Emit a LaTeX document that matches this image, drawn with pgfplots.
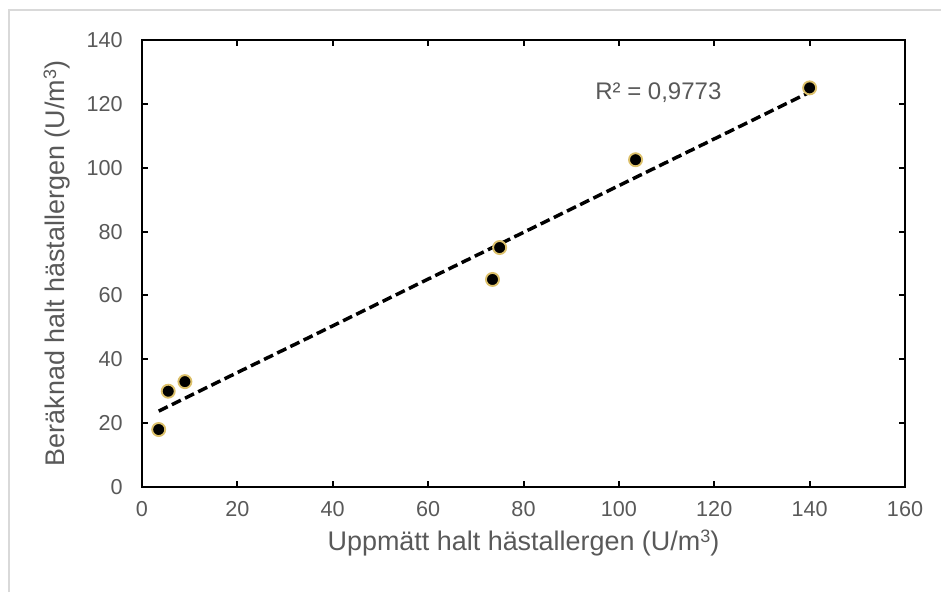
\documentclass[border=0pt]{standalone}
\usepackage{pgfplots}
\pgfplotsset{compat=1.18}
\usepackage{fontspec}
\setmainfont{Liberation Sans}
\definecolor{txt}{HTML}{595959}
\definecolor{edge}{HTML}{DCC06A}
\definecolor{frame}{HTML}{D9D9D9}
\begin{document}
\begin{tikzpicture}[x=0.75pt,y=0.75pt]
\useasboundingbox (-142,-105) rectangle (799,487);
\draw[frame,line width=1.5pt] (-133,-105) -- (-133,477) -- (799,477);
\begin{axis}[
  at={(0,0)}, anchor=origin,
  scale only axis=true,
  width=572.25pt, height=335.25pt,
  xmin=0, xmax=160, ymin=0, ymax=140,
  xtick={0,20,...,160}, ytick={0,20,...,140},
  axis line style={black, line width=1.5pt},
  tick style={black, line width=1.5pt},
  tick align=inside,
  major tick length=4.5pt,
  /pgf/number format/assume math mode=true,
  ticklabel style={font=\fontsize{16.2}{19}\selectfont, text=txt},
  xticklabel style={yshift=-7pt},
  yticklabel style={xshift=-11pt},
  label style={font=\fontsize{20.2}{24}\selectfont, text=txt},
  xlabel={Uppmätt halt hästallergen (U/m\raisebox{0.55ex}{\fontsize{13.5}{14}\selectfont 3})},
  ylabel={Beräknad halt hästallergen (U/m\raisebox{0.55ex}{\fontsize{13.5}{14}\selectfont 3})},
  xlabel style={at={(axis description cs:0.5,0)}, anchor=center, yshift=-42pt},
  ylabel style={at={(axis description cs:0,0.5)}, anchor=center, yshift=64pt},
  clip=false,
]
\addplot[black, line width=2.6pt, dash pattern=on 7.5pt off 3.5pt] coordinates {(3.5,23.77) (140,123.65)};
\addplot[only marks, mark=*, mark size=4.9pt, mark options={fill=black, draw=edge, line width=1.4pt}] coordinates {
(3.5,18) (5.5,30) (9,33) (73.5,65) (75,75) (103.5,102.5) (140,125)
};
\node[anchor=west, text=txt, font=\fontsize{18}{21}\selectfont, inner sep=0pt] at (axis cs:95,123.4) {R² = 0,9773};
\end{axis}
\end{tikzpicture}
\end{document}
